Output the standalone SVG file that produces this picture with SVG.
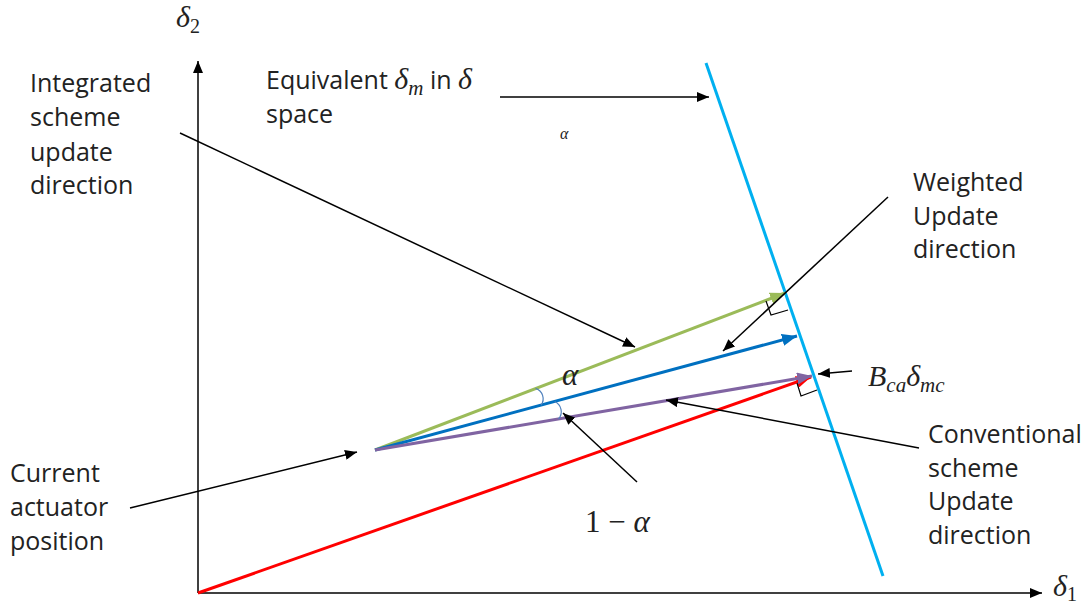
<svg xmlns="http://www.w3.org/2000/svg" width="1087" height="608" viewBox="0 0 1087 608">
<style>
.lbl{font-family:"Open Sans","Liberation Sans",sans-serif;font-size:25px;fill:#222}
.math{font-family:"Liberation Serif","DejaVu Serif",serif;font-style:italic;fill:#222}
.blk{stroke:#000;stroke-width:1.5;fill:none;marker-end:url(#ah)}
.vec{stroke-width:3;fill:none}
</style>
<defs>
<marker id="ah" markerUnits="userSpaceOnUse" markerWidth="14" markerHeight="10" refX="12" refY="5" orient="auto"><path d="M0,0 L12,5 L0,10 Z" fill="#000"/></marker>
<marker id="ag" markerUnits="userSpaceOnUse" markerWidth="16" markerHeight="12" refX="15" refY="6" orient="auto"><path d="M0,0 L15,6 L0,12 Z" fill="#9BBB59"/></marker>
<marker id="ab" markerUnits="userSpaceOnUse" markerWidth="16" markerHeight="12" refX="15" refY="6" orient="auto"><path d="M0,0 L15,6 L0,12 Z" fill="#0070C0"/></marker>
<marker id="ap" markerUnits="userSpaceOnUse" markerWidth="16" markerHeight="12" refX="15" refY="6" orient="auto"><path d="M0,0 L15,6 L0,12 Z" fill="#8064A2"/></marker>
<marker id="ar" markerUnits="userSpaceOnUse" markerWidth="16" markerHeight="12" refX="15" refY="6" orient="auto"><path d="M0,0 L15,6 L0,12 Z" fill="#FF0000"/></marker>
</defs>
<rect width="1087" height="608" fill="#fff"/>
<g id="axes">
<line class="blk" x1="198" y1="593" x2="198" y2="61"/>
<line class="blk" x1="198" y1="593" x2="1042" y2="593"/>
<text class="math" x="176" y="27" font-size="30">δ<tspan font-style="normal" font-size="20" dy="6">2</tspan></text>
<text class="math" x="1053" y="596" font-size="30">δ<tspan font-style="normal" font-size="20" dy="5">1</tspan></text>
</g>
<g id="constraint-line">
<line x1="706" y1="63" x2="883" y2="576" stroke="#00B0F0" stroke-width="3"/>
</g>
<g id="vectors">
<line class="vec" stroke="#FF0000" x1="198" y1="593" x2="811" y2="377" marker-end="url(#ar)"/>
<line class="vec" stroke="#9BBB59" x1="375" y1="450" x2="785" y2="293" marker-end="url(#ag)"/>
<line class="vec" stroke="#0070C0" x1="375" y1="450" x2="797" y2="336" marker-end="url(#ab)"/>
<line class="vec" stroke="#8064A2" x1="375" y1="450" x2="812" y2="376" marker-end="url(#ap)"/>
</g>
<g id="angle-marks" fill="none">
<path d="M766,301 L771,315 L788,310" stroke="#000" stroke-width="1.2"/>
<path d="M797,383 L801,396 L817,390" stroke="#000" stroke-width="1.2"/>
<path d="M535.6,388.4 A11,11 0 0 1 541.1,405.2" stroke="#4F81BD" stroke-width="1.2"/>
<path d="M554.6,401.5 A11,11 0 0 1 558.4,419" stroke="#4F81BD" stroke-width="1.2"/>
</g>
<g id="connectors">
<line class="blk" x1="180" y1="133" x2="635" y2="347"/>
<line class="blk" x1="500" y1="97" x2="709" y2="97"/>
<line class="blk" x1="888" y1="197" x2="723" y2="351"/>
<line class="blk" x1="130" y1="508" x2="357" y2="452"/>
<line class="blk" x1="637" y1="482" x2="563" y2="413"/>
<line class="blk" x1="919" y1="448" x2="666" y2="400"/>
<line class="blk" x1="852" y1="371" x2="818" y2="374"/>
</g>
<g id="label-integrated">
<text class="lbl" x="30" y="92">Integrated</text>
<text class="lbl" x="30" y="126">scheme</text>
<text class="lbl" x="30" y="161">update</text>
<text class="lbl" x="30" y="194">direction</text>
</g>
<g id="label-equivalent">
<text class="lbl" x="266" y="89">Equivalent <tspan class="math" font-size="30">δ<tspan font-size="21" dy="6">m</tspan></tspan><tspan dy="-6"> in </tspan><tspan class="math" font-size="30">δ</tspan></text>
<text class="lbl" x="266" y="123">space</text>
<text class="math" x="560" y="139" font-size="16">α</text>
</g>
<g id="label-weighted">
<text class="lbl" x="913" y="191">Weighted</text>
<text class="lbl" x="913" y="225">Update</text>
<text class="lbl" x="913" y="258">direction</text>
</g>
<g id="label-current">
<text class="lbl" x="10" y="482">Current</text>
<text class="lbl" x="10" y="516">actuator</text>
<text class="lbl" x="10" y="550">position</text>
</g>
<g id="label-conventional">
<text class="lbl" x="928" y="443">Conventional</text>
<text class="lbl" x="928" y="477">scheme</text>
<text class="lbl" x="928" y="510">Update</text>
<text class="lbl" x="928" y="544">direction</text>
</g>
<g id="label-bca">
<text class="math" x="868" y="386" font-size="30">B<tspan font-size="21" dy="6">ca</tspan><tspan dy="-6">δ</tspan><tspan font-size="21" dy="6">mc</tspan></text>
</g>
<g id="label-alpha">
<text class="math" x="562" y="385" font-size="31">α</text>
<text class="math" x="585" y="532" font-size="31"><tspan font-style="normal">1 − </tspan>α</text>
</g>
</svg>
